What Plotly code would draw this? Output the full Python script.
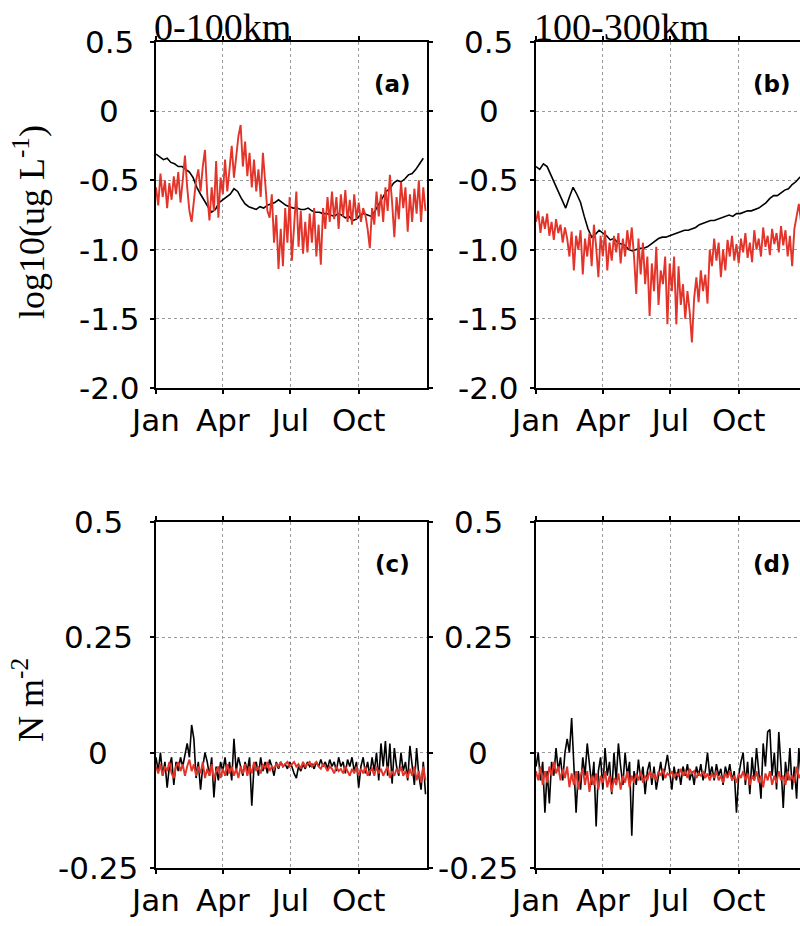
import plotly.graph_objects as go

# ---------------------------------------------------------------------------
# Data (day of year, non-leap year)
# ---------------------------------------------------------------------------
DAYS_3 = list(range(0, 364, 3))   # 3-day sampling, 122 points
DAYS_5 = list(range(0, 361, 5))   # 5-day sampling, 73 points

MONTH_DAYS = [0, 90, 181, 273]
MONTH_LABELS = ["Jan", "Apr", "Jul", "Oct"]

CHL_TICKS = [0.5, 0.0, -0.5, -1.0, -1.5, -2.0]
CHL_TICK_LABELS = ["0.5", "0", "-0.5", "-1.0", "-1.5", "-2.0"]
TAU_TICKS = [0.5, 0.25, 0.0, -0.25]
TAU_TICK_LABELS = ["0.5", "0.25", "0", "-0.25"]

PANEL_TAGS = ["(a)", "(b)", "(c)", "(d)"]
BAND_TITLES = ["0-100km", "100-300km"]

# (a) 0-100 km, log10 chlorophyll
chl_near_black = [
    -0.31, -0.33, -0.35, -0.34, -0.37, -0.38, -0.40, -0.40, -0.42, -0.44,
    -0.48, -0.55, -0.60, -0.65, -0.69, -0.73, -0.71, -0.66, -0.64, -0.62,
    -0.60, -0.56, -0.58, -0.63, -0.67, -0.69, -0.70, -0.71, -0.69, -0.70,
    -0.68, -0.67, -0.66, -0.64, -0.66, -0.68, -0.69, -0.70, -0.70, -0.71,
    -0.71, -0.70, -0.72, -0.73, -0.73, -0.74, -0.74, -0.75, -0.76, -0.74,
    -0.75, -0.77, -0.76, -0.79, -0.78, -0.75, -0.74, -0.75, -0.76, -0.72,
    -0.67, -0.62, -0.58, -0.56, -0.52, -0.50, -0.51, -0.49, -0.46, -0.45,
    -0.42, -0.38, -0.34,
]
chl_near_red = [
    -0.55, -0.68, -0.45, -0.62, -0.50, -0.70, -0.52, -0.64, -0.47, -0.60,
    -0.44, -0.66, -0.50, -0.32, -0.55, -0.72, -0.80, -0.62, -0.50, -0.42,
    -0.58, -0.40, -0.28, -0.60, -0.79, -0.55, -0.72, -0.36, -0.77, -0.48,
    -0.60, -0.35, -0.58, -0.42, -0.25, -0.48, -0.30, -0.18, -0.10, -0.40,
    -0.22, -0.47, -0.30, -0.55, -0.35, -0.58, -0.42, -0.62, -0.30, -0.55,
    -0.72, -0.77, -0.60, -0.95, -0.75, -1.14, -0.85, -1.12, -0.70, -0.95,
    -0.62, -1.08, -0.78, -0.58, -0.98, -0.72, -1.03, -0.80, -1.02, -0.74,
    -0.95, -0.70, -1.05, -0.82, -1.11, -0.70, -0.85, -0.62, -0.80, -0.58,
    -0.78, -0.62, -0.85, -0.60, -0.76, -0.57, -0.80, -0.64, -0.82, -0.60,
    -0.78, -0.66, -0.80, -0.70, -0.75, -0.85, -0.99, -0.70, -0.82, -0.58,
    -0.76, -0.60, -0.80, -0.55, -0.72, -0.46, -0.66, -0.91, -0.62, -0.78,
    -0.51, -0.70, -0.55, -0.87, -0.60, -0.80, -0.56, -0.74, -0.50, -0.80,
    -0.55, -0.72,
]

# (b) 100-300 km, log10 chlorophyll
chl_far_black = [
    -0.40, -0.42, -0.38, -0.40, -0.46, -0.52, -0.57, -0.63, -0.70, -0.62,
    -0.55, -0.60, -0.66, -0.76, -0.85, -0.91, -0.89, -0.86, -0.88, -0.90,
    -0.93, -0.92, -0.95, -0.96, -0.97, -1.00, -1.01, -1.00, -0.99, -0.99,
    -0.98, -0.96, -0.94, -0.92, -0.91, -0.91, -0.90, -0.89, -0.88, -0.87,
    -0.86, -0.86, -0.85, -0.84, -0.82, -0.81, -0.80, -0.79, -0.79, -0.78,
    -0.77, -0.76, -0.75, -0.76, -0.74, -0.74, -0.73, -0.72, -0.72, -0.71,
    -0.70, -0.68, -0.66, -0.63, -0.61, -0.61, -0.59, -0.57, -0.56, -0.53,
    -0.51, -0.48, -0.46,
]
chl_far_red = [
    -0.80, -0.72, -0.88, -0.76, -0.85, -0.74, -0.90, -0.80, -0.93, -0.78,
    -0.88, -0.82, -0.95, -0.84, -0.92, -1.05, -0.87, -1.15, -0.90, -1.00,
    -0.86, -1.18, -0.92, -1.05, -0.88, -1.12, -0.82, -0.98, -1.20, -0.90,
    -1.05, -0.86, -1.15, -0.95, -1.08, -0.90, -1.02, -0.88, -1.10, -0.92,
    -1.05, -0.86, -1.00, -0.84, -1.05, -1.32, -0.92, -1.18, -0.95, -1.25,
    -1.05, -1.48, -1.10, -1.30, -0.98, -1.40, -1.15, -1.25, -1.05, -1.54,
    -1.10, -1.30, -1.05, -1.54, -1.12, -1.40, -1.25, -1.50, -1.30, -1.45,
    -1.67, -1.35, -1.20, -1.38, -1.15, -1.30, -1.18, -1.39, -1.00, -1.12,
    -0.92, -1.08, -0.95, -1.20, -1.00, -1.15, -0.93, -1.05, -0.90, -1.08,
    -0.96, -1.10, -0.92, -1.02, -0.88, -1.06, -0.95, -1.09, -0.86, -1.00,
    -0.92, -1.05, -0.84, -0.98, -0.90, -1.04, -0.85, -0.96, -0.88, -1.02,
    -0.83, -0.97, -0.86, -1.05, -0.90, -1.12, -0.85, -0.75, -0.67, -0.80,
    -0.72, -0.85,
]

# (c) 0-100 km, wind stress (N m-2)
tau_near_black = [
    -0.01, -0.04, 0.00, -0.05, -0.02, -0.076, -0.03, -0.01, -0.07, -0.02,
    -0.04, -0.01, -0.03, 0.00, 0.02, -0.01, 0.06, 0.03, -0.055, -0.02,
    -0.08, -0.03, 0.00, -0.02, -0.05, -0.01, -0.097, -0.03, -0.06, -0.02,
    -0.04, -0.01, -0.05, -0.02, -0.06, 0.03, -0.04, -0.01, -0.03, -0.05,
    -0.02, -0.04, -0.01, -0.115, -0.03, -0.02, -0.05, -0.01, -0.04, -0.02,
    -0.045, -0.015, -0.03, -0.05, -0.02, -0.035, -0.02, -0.03, -0.025, -0.035,
    -0.02, -0.03, -0.045, -0.055, -0.03, -0.04, -0.025, -0.035, -0.02, -0.03,
    -0.025, -0.035, -0.02, -0.03, -0.015, -0.03, -0.02, -0.035, -0.015, -0.03,
    -0.02, -0.04, -0.01, -0.03, -0.02, -0.045, -0.015, -0.03, -0.01, -0.04,
    -0.02, -0.076, -0.03, -0.01, -0.045, -0.02, -0.05, -0.01, -0.04, 0.00,
    -0.06, 0.02, -0.03, 0.025, -0.05, 0.02, -0.067, 0.01, -0.03, -0.05,
    0.00, -0.04, -0.02, -0.06, 0.015, -0.03, -0.07, 0.01, -0.05, -0.08,
    -0.02, -0.09,
]
tau_near_red = [
    -0.03, -0.045, -0.025, -0.05, -0.03, -0.04, -0.02, -0.045, -0.055, -0.03,
    -0.02, -0.04, -0.025, -0.05, -0.03, -0.015, -0.04, -0.025, -0.05, -0.03,
    -0.045, -0.02, -0.055, -0.035, -0.05, -0.025, -0.06, -0.04, -0.03, -0.055,
    -0.035, -0.05, -0.025, -0.045, -0.03, -0.05, -0.035, -0.055, -0.03, -0.045,
    -0.025, -0.05, -0.03, -0.045, -0.02, -0.04, -0.03, -0.045, -0.025, -0.035,
    -0.02, -0.04, -0.03, -0.035, -0.025, -0.03, -0.02, -0.03, -0.025, -0.02,
    -0.03, -0.025, -0.02, -0.03, -0.025, -0.035, -0.02, -0.03, -0.025, -0.02,
    -0.03, -0.025, -0.02, -0.03, -0.035, -0.025, -0.03, -0.04, -0.03, -0.035,
    -0.045, -0.03, -0.04, -0.035, -0.045, -0.03, -0.04, -0.05, -0.035, -0.045,
    -0.03, -0.05, -0.035, -0.045, -0.03, -0.05, -0.04, -0.035, -0.05, -0.03,
    -0.045, -0.035, -0.05, -0.04, -0.03, -0.055, -0.04, -0.05, -0.035, -0.045,
    -0.03, -0.05, -0.04, -0.055, -0.035, -0.05, -0.03, -0.06, -0.04, -0.065,
    -0.03, -0.06,
]

# (d) 100-300 km, wind stress (N m-2)
tau_far_black = [
    -0.03, 0.00, -0.06, -0.02, -0.13, -0.04, -0.11, -0.02, -0.05, 0.01,
    -0.04, -0.01, -0.06, 0.00, 0.03, 0.00, 0.075, -0.02, -0.13, -0.04,
    -0.08, -0.01, -0.05, 0.02, -0.03, -0.07, -0.02, -0.16, -0.04, -0.01,
    -0.08, 0.01, -0.05, -0.02, -0.09, 0.00, -0.06, 0.02, -0.03, -0.07,
    0.00, -0.05, -0.02, -0.18, -0.04, -0.07, -0.015, -0.06, -0.03, -0.09,
    -0.04, -0.02, -0.07, -0.03, -0.08, -0.05, -0.02, -0.06, -0.03, -0.005,
    -0.04, -0.08, -0.03, -0.06, -0.035, -0.07, -0.03, -0.05, -0.025, -0.06,
    -0.04, -0.07, -0.03, -0.05, -0.025, -0.06, -0.04, 0.00, -0.05, -0.03,
    -0.06, -0.025, -0.05, -0.035, -0.07, -0.03, -0.05, -0.025, -0.06, -0.04,
    -0.13, -0.05, -0.02, 0.00, -0.07, -0.02, -0.09, -0.01, -0.06, 0.01,
    -0.04, -0.10, 0.02, -0.03, 0.045, 0.05, -0.05, 0.00, -0.08, 0.045,
    -0.03, -0.12, -0.02, -0.06, 0.01, -0.08, -0.03, -0.10, 0.01, -0.05,
    -0.02, -0.07,
]
tau_far_red = [
    -0.04, -0.06, -0.03, -0.07, -0.04, -0.065, -0.03, -0.05, -0.02, -0.045,
    -0.03, -0.06, -0.035, -0.055, -0.03, -0.075, -0.045, -0.07, -0.04, -0.08,
    -0.05, -0.035, -0.07, -0.04, -0.085, -0.05, -0.07, -0.045, -0.08, -0.05,
    -0.065, -0.04, -0.075, -0.05, -0.085, -0.055, -0.07, -0.045, -0.08, -0.05,
    -0.065, -0.04, -0.075, -0.05, -0.065, -0.045, -0.06, -0.04, -0.065, -0.05,
    -0.06, -0.04, -0.055, -0.045, -0.06, -0.04, -0.05, -0.035, -0.055, -0.045,
    -0.05, -0.04, -0.055, -0.045, -0.05, -0.035, -0.05, -0.04, -0.055, -0.035,
    -0.045, -0.04, -0.055, -0.045, -0.05, -0.04, -0.055, -0.045, -0.06, -0.045,
    -0.055, -0.04, -0.06, -0.05, -0.065, -0.045, -0.055, -0.04, -0.06, -0.05,
    -0.065, -0.045, -0.055, -0.04, -0.06, -0.045, -0.07, -0.05, -0.06, -0.04,
    -0.065, -0.05, -0.075, -0.045, -0.06, -0.04, -0.07, -0.05, -0.065, -0.04,
    -0.06, -0.05, -0.07, -0.04, -0.06, -0.05, -0.065, -0.03, -0.055, -0.045,
    -0.06, -0.04,
]

# ---------------------------------------------------------------------------
# Layout geometry (pixels on an 800 x 926 canvas)
# ---------------------------------------------------------------------------
W, H = 800, 926
BLACK = "#000000"
RED = "#e3342a"
GRID = "#9a9a9a"
SANS = "DejaVu Sans"
SERIF = "Liberation Serif"


def fx(px):
    return px / W


def fy(py):
    return 1 - py / H


COL_X = [(156, 427), (536, 800)]
ROW_Y = [(42, 388), (522, 868)]
DAYS_PER_PX = 365 / (427 - 156)
X_RANGES = [[0, 365], [0, (800 - 536) * DAYS_PER_PX]]

fig = go.Figure()

panels = [
    # (row, col, black series, black days, red series, red days)
    (0, 0, chl_near_black, DAYS_5, chl_near_red, DAYS_3),
    (0, 1, chl_far_black, DAYS_5, chl_far_red, DAYS_3),
    (1, 0, tau_near_black, DAYS_3, tau_near_red, DAYS_3),
    (1, 1, tau_far_black, DAYS_3, tau_far_red, DAYS_3),
]

layout = dict(
    width=W, height=H,
    margin=dict(l=0, r=0, t=0, b=0, pad=0, autoexpand=False),
    paper_bgcolor="white", plot_bgcolor="white",
    showlegend=False,
)
annotations = []

for i, (row, col, kb, db, kr, dr) in enumerate(panels):
    n = i + 1
    xname = "xaxis" if n == 1 else f"xaxis{n}"
    yname = "yaxis" if n == 1 else f"yaxis{n}"
    xref = "x" if n == 1 else f"x{n}"
    yref = "y" if n == 1 else f"y{n}"

    fig.add_trace(go.Scatter(x=db, y=kb, mode="lines", xaxis=xref, yaxis=yref,
                             line=dict(color=BLACK, width=1.6)))
    fig.add_trace(go.Scatter(x=dr, y=kr, mode="lines", xaxis=xref, yaxis=yref,
                             line=dict(color=RED, width=1.9)))

    x0, x1 = COL_X[col]
    y0, y1 = ROW_Y[row]
    if row == 0:
        yt, ytl, yr = CHL_TICKS, CHL_TICK_LABELS, [-2.0, 0.5]
        lab_cx = x0 - 47
    else:
        yt, ytl, yr = TAU_TICKS, TAU_TICK_LABELS, [-0.25, 0.5]
        lab_cx = x0 - 58

    layout[xname] = dict(
        domain=[fx(x0), fx(x1)], anchor=yref, range=X_RANGES[col],
        tickmode="array", tickvals=MONTH_DAYS, ticktext=MONTH_LABELS,
        tickfont=dict(family=SANS, size=31, color=BLACK),
        ticks="outside", ticklen=4, tickwidth=1.5, tickcolor=BLACK,
        showline=True, linecolor=BLACK, linewidth=2, mirror="ticks",
        showgrid=True, gridcolor=GRID, gridwidth=1, griddash="dot",
        zeroline=False, fixedrange=True, automargin=False,
    )
    layout[yname] = dict(
        domain=[fy(y1), fy(y0)], anchor=xref, range=yr,
        tickmode="array", tickvals=yt, showticklabels=False,
        ticks="outside", ticklen=4, tickwidth=1.5, tickcolor=BLACK,
        showline=True, linecolor=BLACK, linewidth=2,
        mirror="ticks" if col == 0 else False,
        showgrid=True, gridcolor=GRID, gridwidth=1, griddash="dot",
        zeroline=False, fixedrange=True, automargin=False,
    )

    # centred y tick labels
    for v, t in zip(yt, ytl):
        annotations.append(dict(
            x=fx(lab_cx), xref="paper", y=v, yref=yref, text=t,
            showarrow=False, xanchor="center", yanchor="middle",
            font=dict(family=SANS, size=31, color=BLACK),
        ))

    # panel tag
    annotations.append(dict(
        x=fx(x0 + 236), xref="paper", y=fy(y0 + 42), yref="paper",
        text=f"<b>{PANEL_TAGS[i]}</b>", showarrow=False,
        xanchor="center", yanchor="middle",
        font=dict(family=SANS, size=23, color=BLACK),
    ))

# column titles
for col, title in enumerate(BAND_TITLES):
    annotations.append(dict(
        x=fx(COL_X[col][0] - 4), xref="paper", y=fy(27), yref="paper",
        text=title, showarrow=False, xanchor="left", yanchor="middle",
        font=dict(family=SERIF, size=38, color=BLACK),
    ))

# y axis titles
annotations.append(dict(
    x=fx(30), xref="paper", y=fy(222), yref="paper",
    text="log10(ug L<sup>-1</sup>)", textangle=-90, showarrow=False,
    xanchor="center", yanchor="middle",
    font=dict(family=SERIF, size=36, color=BLACK),
))
annotations.append(dict(
    x=fx(28), xref="paper", y=fy(700), yref="paper",
    text="N m<sup>-2</sup>", textangle=-90, showarrow=False,
    xanchor="center", yanchor="middle",
    font=dict(family=SERIF, size=36, color=BLACK),
))

layout["annotations"] = annotations
fig.update_layout(**layout)

fig.write_html("out.html", config={"displayModeBar": False})
